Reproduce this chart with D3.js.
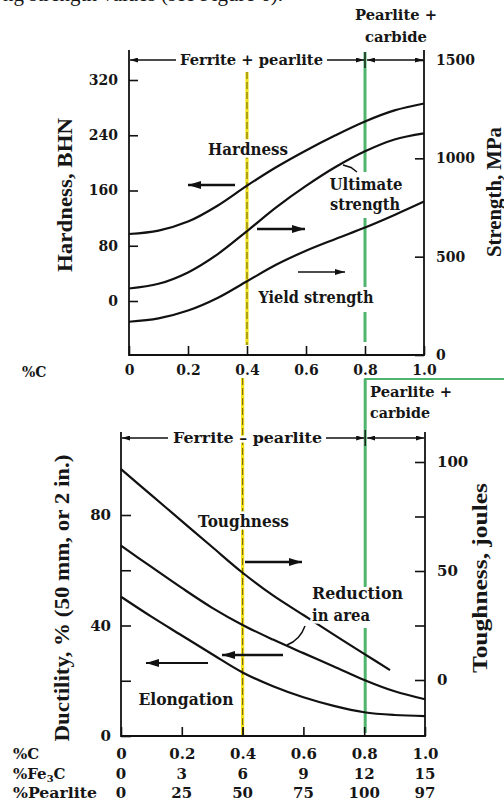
<!DOCTYPE html>
<html><head><meta charset="utf-8">
<script src="https://cdn.jsdelivr.net/npm/d3@7"></script>
<style>
body{margin:0;background:#fff}
svg{display:block}
text{font-family:"DejaVu Serif","Liberation Serif",serif;font-weight:bold;fill:#161616}
.title{font-family:"Liberation Serif","DejaVu Serif",serif;font-weight:bold}
</style>
</head><body>
<script>
// ---------------- data ----------------
const carbon = [0,0.1,0.2,0.3,0.4,0.5,0.6,0.7,0.8,0.9,1.0];
const hardnessBHN = [97,102,115,138,167,194,218,240,260,276,286];
const ultimateMPa = [338,362,420,512,630,752,860,956,1036,1096,1127];
const yieldMPa = [169,186,226,290,375,460,530,590,648,712,780];

const carbonTough = [0,0.1,0.2,0.3,0.4,0.5,0.6,0.7,0.8,0.885];
const toughnessJ = [96.7,84.8,72.9,61,49.2,38.8,29.8,20.8,12,4.5];
const reductionPct = [68.9,61.2,53.6,46.4,40.2,34.9,30,25.2,20.3,16.2,13.3];
const elongationPct = [50.4,43.2,36.4,29.6,23,18,14,10.9,8.6,7.6,7.2];

const cTicks = [0,0.2,0.4,0.6,0.8,1.0];
const cLabels = ["0","0.2","0.4","0.6","0.8","1.0"];
const fe3cLabels = ["0","3","6","9","12","15"];
const pearliteLabels = ["0","25","50","75","100","97"];
const hardTicks = [0,80,160,240,320];
const strTicks = [0,500,1000,1500];
const ductTicks = [0,20,40,60,80];
const ductLabelTicks = [0,40,80];
const toughTicks = [0,25,50,75,100];
const toughLabelTicks = [0,50,100];

// ---------------- setup ----------------
const W = 504, H = 808;
const svg = d3.select("body").append("svg").attr("width", W).attr("height", H);
const defs = svg.append("defs");
function marker(id, w, h){
  defs.append("marker").attr("id", id).attr("markerUnits","userSpaceOnUse")
    .attr("markerWidth", w).attr("markerHeight", h).attr("refX", w).attr("refY", h/2)
    .attr("orient","auto-start-reverse")
    .append("path").attr("d", `M0,0L${w},${h/2}L0,${h}Z`).attr("fill","#111");
}
marker("big", 13, 8);
marker("mid", 10, 6);
marker("small", 8, 5);

// header fragment (cropped in the source image)
svg.append("text").attr("x", 3).attr("y", 1).attr("class","title")
  .style("font-weight","normal").style("font-size","21px")
  .text("ng strength values (see Figure 6).");

// scales
const xTop = d3.scaleLinear().domain([0,1]).range([129,424]);
const yHard = d3.scaleLinear().domain([0,320]).range([301,80]);
const yStr = d3.scaleLinear().domain([0,1500]).range([355,60]);
const xBot = d3.scaleLinear().domain([0,1]).range([121,425]);
const yDuct = d3.scaleLinear().domain([0,80]).range([736,515]);
const yTough = d3.scaleLinear().domain([0,100]).range([680,462]);

const vline = (x, y1, y2, color, w, dash) => {
  const l = svg.append("line").attr("x1",x).attr("x2",x).attr("y1",y1).attr("y2",y2)
    .attr("stroke",color).attr("stroke-width",w);
  if (dash) l.attr("stroke-dasharray",dash);
  return l;
};
const seg = (x1,y1,x2,y2,w,mk,both) => {
  const l = svg.append("line").attr("x1",x1).attr("y1",y1).attr("x2",x2).attr("y2",y2)
    .attr("stroke","#111").attr("stroke-width",w);
  if (mk) l.attr("marker-end",`url(#${mk})`);
  if (both) l.attr("marker-start",`url(#${mk})`);
  return l;
};

// ---------------- reference lines (yellow / green) ----------------
const GREEN = "#4fb46c", YEL = "#f1e21c";
vline(xTop(0.4), 72, 345, YEL, 3.2);
vline(xTop(0.4), 72, 345, "#7a6a10", 1.1, "7,3");
[[52,172],[218,287],[312,342]].forEach(s => vline(xTop(0.8), s[0], s[1], GREEN, 3));
vline(xBot(0.4), 378, 736, YEL, 3.2);
vline(xBot(0.4), 378, 736, "#7a6a10", 1.1, "7,3");
[[379,587],[628,733]].forEach(s => vline(xBot(0.8)+1, s[0], s[1], GREEN, 3));
svg.append("line").attr("x1", xBot(0.8)).attr("x2", W).attr("y1", 379).attr("y2", 379)
  .attr("stroke", GREEN).attr("stroke-width", 2);

// ---------------- frames ----------------
const frameW = 1.8;
vline(xTop(0), 50, 356, "#111", frameW);
vline(xTop(1), 50, 356, "#111", frameW);
seg(xTop(0), 355, xTop(1), 355, frameW);
vline(xBot(0), 432, 737, "#111", frameW);
vline(xBot(1), 432, 737, "#111", frameW);
seg(xBot(0), 736, xBot(1), 736, frameW);

// ---------------- axes ----------------
function styleAxis(g, size){
  g.select(".domain").remove();
  g.selectAll(".tick line").attr("stroke","#111").attr("stroke-width",1.6);
  g.selectAll(".tick text").style("font-size", size+"px").attr("fill","#161616");
}
styleAxis(svg.append("g").attr("transform",`translate(${xTop(0)},0)`)
  .call(d3.axisLeft(yHard).tickValues(hardTicks).tickSize(-9).tickPadding(11).tickFormat(d3.format("d"))), 14);
styleAxis(svg.append("g").attr("transform",`translate(${xTop(1)},0)`)
  .call(d3.axisRight(yStr).tickValues(strTicks).tickSize(-9).tickPadding(12).tickFormat(d3.format("d"))), 14);
styleAxis(svg.append("g").attr("transform","translate(0,355)")
  .call(d3.axisBottom(xTop).tickValues(cTicks).tickSize(-9).tickPadding(10).tickFormat((d,i)=>cLabels[i])), 14);
const gDuct = svg.append("g").attr("transform",`translate(${xBot(0)},0)`)
  .call(d3.axisLeft(yDuct).tickValues(ductTicks).tickSize(-10).tickPadding(10)
    .tickFormat(d => ductLabelTicks.includes(d) ? d3.format("d")(d) : ""));
styleAxis(gDuct, 15);
const gTough = svg.append("g").attr("transform",`translate(${xBot(1)},0)`)
  .call(d3.axisRight(yTough).tickValues(toughTicks).tickSize(-10).tickPadding(12)
    .tickFormat(d => toughLabelTicks.includes(d) ? d3.format("d")(d) : ""));
styleAxis(gTough, 15);
styleAxis(svg.append("g").attr("transform","translate(0,736)")
  .call(d3.axisBottom(xBot).tickValues(cTicks).tickSize(-9).tickPadding(12).tickFormat((d,i)=>cLabels[i])), 15);
const rows = [[fe3cLabels, 779],[pearliteLabels, 798]];
rows.forEach(([labs, y]) => {
  svg.append("g").selectAll("text").data(cTicks).join("text")
    .attr("x", d => xBot(d)).attr("y", y).attr("text-anchor","middle")
    .style("font-size","15px").text((d,i)=>labs[i]);
});
svg.append("text").attr("x",22).attr("y",377).style("font-size","14px").text("%C");
svg.append("text").attr("x",13).attr("y",759).style("font-size","15px").text("%C");
const fe = svg.append("text").attr("x",13).attr("y",779).style("font-size","15px");
fe.append("tspan").text("%Fe");
fe.append("tspan").attr("dy",3).style("font-size","10px").text("3");
fe.append("tspan").attr("dy",-3).text("C");
svg.append("text").attr("x",13).attr("y",798).style("font-size","15px")
  .attr("textLength",84).attr("lengthAdjust","spacingAndGlyphs").text("%Pearlite");

// ---------------- curves ----------------
const CURVE = d3.curveCatmullRom.alpha(0.5);
const curveStyle = sel => sel.attr("fill","none").attr("stroke","#111").attr("stroke-width",2.2);
const lineTop = (ys, yScale) => d3.line().curve(CURVE)
  .x((d,i)=>xTop(carbon[i])).y(d=>yScale(d))(ys);
curveStyle(svg.append("path").attr("d", lineTop(hardnessBHN, yHard)));
curveStyle(svg.append("path").attr("d", lineTop(ultimateMPa, yStr)));
curveStyle(svg.append("path").attr("d", lineTop(yieldMPa, yStr)));

curveStyle(svg.append("path").attr("d", d3.line().curve(CURVE)
  .x((d,i)=>xBot(carbonTough[i])).y(d=>yTough(d))(toughnessJ)));
curveStyle(svg.append("path").attr("d", d3.line().curve(CURVE)
  .x((d,i)=>xBot(carbon[i])).y(d=>yDuct(d))(reductionPct)));
curveStyle(svg.append("path").attr("d", d3.line().curve(CURVE)
  .x((d,i)=>xBot(carbon[i])).y(d=>yDuct(d))(elongationPct)));

// ---------------- labels ----------------
function label(txt, x, y, w, size, anchor, halo){
  const t = svg.append("text").attr("x",x).attr("y",y).attr("text-anchor",anchor||"middle")
    .style("font-size",size+"px").attr("textLength",w).attr("lengthAdjust","spacingAndGlyphs").text(txt);
  if (halo) t.attr("stroke","#fff").attr("stroke-width",5).attr("paint-order","stroke").attr("stroke-linejoin","round");
  return t;
}
seg(176,60,xTop(0)+1,60,1.3,"small");
seg(327,60,xTop(0.8)-1,60,1.3,"small");
seg(xTop(0.8)+2,60,xTop(1)-1,60,1.3,"small",true);
vline(xTop(0.8), 52, 68, "#111", 1.3);
label("Ferrite + pearlite", 251.5, 65, 143, 15, "middle", true);
label("Pearlite +", 396, 20, 82, 15);
label("carbide", 396, 42, 62, 15);

label("Hardness", 248, 155, 80, 16, "middle", true);
label("Ultimate", 366, 190, 73, 16);
label("strength", 365, 210, 70, 16);
label("Yield strength", 316, 303, 115, 16, "middle", true);
seg(235,185,188,185,2.4,"big");
seg(257,229,305,229,2.4,"big");
seg(298,272,345,272,1.4,"mid");
svg.append("path").attr("d","M343,165L351,167.5L357,172").attr("fill","none").attr("stroke","#111").attr("stroke-width",1.5);

seg(168,438,xBot(0)+1,438,1.3,"small");
seg(326,438,xBot(0.8),438,1.3,"small");
seg(xBot(0.8)+3,438,xBot(1)-1,438,1.3,"small",true);
vline(xBot(0.8)+1, 430, 446, "#111", 1.3);
label("Ferrite – pearlite", 247.5, 443, 149, 15, "middle", true);
label("Pearlite +", 370, 397, 82, 15, "start");
label("carbide", 370, 418, 60, 15, "start");

label("Toughness", 243.5, 527, 91, 16, "middle", true);
label("Reduction", 312, 599, 91, 16, "start", true);
label("in area", 312, 621, 58, 16, "start", true);
label("Elongation", 186, 705, 95, 16, "middle", true);
seg(245,562,302,562,2.4,"big");
seg(283,655,222,655,2.4,"big");
seg(208,663,146,663,2.2,"big");
svg.append("path").attr("d","M305,626Q300,640 287,645").attr("fill","none").attr("stroke","#111").attr("stroke-width",1.5);

// ---------------- axis titles ----------------
function vtitle(txt, bx, cy, len, size){
  svg.append("text").attr("class","title").attr("transform",`translate(${bx},${cy}) rotate(-90)`)
    .attr("text-anchor","middle").style("font-size",size+"px")
    .attr("textLength",len).attr("lengthAdjust","spacingAndGlyphs").text(txt);
}
vtitle("Hardness, BHN", 72, 195, 154, 20);
vtitle("Strength, MPa", 501, 192, 130, 20);
vtitle("Ductility, % (50 mm, or 2 in.)", 69, 598, 287, 20);
vtitle("Toughness, joules", 487, 578, 190, 20);
</script>
</body></html>
